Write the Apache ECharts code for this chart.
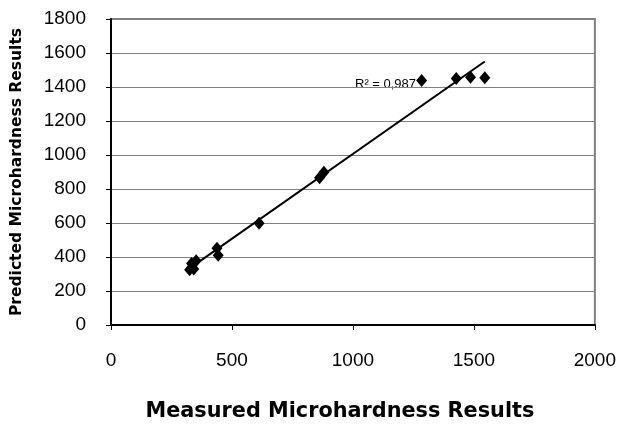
<!DOCTYPE html>
<html>
<head>
<meta charset="utf-8">
<script src="https://cdn.jsdelivr.net/npm/echarts@6/dist/echarts.min.js"></script>
<style>
  html, body { margin: 0; padding: 0; background: #fff; }
  #chart { width: 619px; height: 427px; }
</style>
</head>
<body>
<div id="chart"></div>
<script>
// measured vs predicted microhardness
const measured = [325, 333, 342, 352, 438, 443, 612, 862, 880, 1284, 1427, 1486, 1545];
const predicted = [325, 362, 330, 378, 452, 410, 598, 866, 898, 1438, 1450, 1458, 1454];
const r2Label = 'R² = 0,987';

// linear trendline (least squares), drawn from min x to max x
const n = measured.length;
const mx = measured.reduce((a, b) => a + b, 0) / n;
const my = predicted.reduce((a, b) => a + b, 0) / n;
let sxy = 0, sxx = 0;
for (let i = 0; i < n; i++) {
  sxy += (measured[i] - mx) * (predicted[i] - my);
  sxx += (measured[i] - mx) * (measured[i] - mx);
}
const slope = sxy / sxx;
const intercept = my - slope * mx;
const xMin = Math.min(...measured);
const xMax = Math.max(...measured);
const trend = [[xMin, slope * xMin + intercept], [xMax, slope * xMax + intercept]];

const chart = echarts.init(document.getElementById('chart'));

const option = {
  animation: false,
  grid: {
    left: 111,
    right: 23,
    top: 19,
    bottom: 100,
    show: true,
    borderColor: '#808080',
    borderWidth: 2,
  },
  xAxis: {
    type: 'value',
    min: 0,
    max: 2000,
    interval: 500,
    name: 'Measured Microhardness Results',
    nameLocation: 'middle',
    nameGap: 76,
    nameTextStyle: {
      fontFamily: 'DejaVu Sans',
      fontWeight: 'bold',
      fontSize: 20.8,
      color: '#000',
      padding: [0, 26, 0, 0], // title sits a bit left of the plot centre
    },
    axisLine: { lineStyle: { color: '#000', width: 2 } },
    axisTick: { show: true, length: 5, lineStyle: { color: '#000' } },
    axisLabel: {
      margin: 26,
      fontFamily: 'Liberation Sans',
      fontSize: 19,
      color: '#000',
      formatter: (v) => String(v),
    },
    splitLine: { show: false },
  },
  yAxis: {
    type: 'value',
    min: 0,
    max: 1800,
    interval: 200,
    name: 'Predicted Microhardness Results',
    nameLocation: 'middle',
    nameGap: 86,
    nameTextStyle: {
      fontFamily: 'DejaVu Sans',
      fontWeight: 'bold',
      fontSize: 15.5,
      color: '#000',
    },
    axisLine: { show: true, lineStyle: { color: '#000', width: 2 } },
    axisTick: { show: true, length: 5, lineStyle: { color: '#000' } },
    axisLabel: {
      margin: 25,
      fontFamily: 'Liberation Sans',
      fontSize: 19,
      color: '#000',
      formatter: (v) => String(v),
    },
    splitLine: { lineStyle: { color: '#808080', width: 1 } },
  },
  series: [
    {
      name: 'trend',
      type: 'line',
      data: trend,
      symbol: 'none',
      lineStyle: { color: '#000', width: 2 },
      z: 2,
    },
    {
      name: 'points',
      type: 'scatter',
      data: measured.map((x, i) => [x, predicted[i]]),
      symbol: 'diamond',
      symbolSize: [11, 13],
      itemStyle: { color: '#000', opacity: 1 },
      z: 3,
    },
  ],
  graphic: [
    {
      type: 'text',
      left: 355,
      top: 78,
      style: {
        text: r2Label,
        fontFamily: 'Liberation Sans',
        fontSize: 13,
        fill: '#000',
      },
    },
  ],
};

chart.setOption(option);
window.addEventListener('resize', chart.resize);
</script>
</body>
</html>
